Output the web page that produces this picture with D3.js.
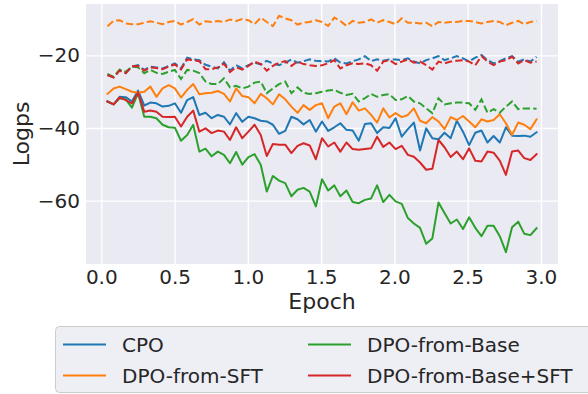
<!DOCTYPE html>
<html><head><meta charset="utf-8">
<script src="https://cdn.jsdelivr.net/npm/d3@7"></script>
<style>html,body{margin:0;padding:0;background:#fff;} svg{display:block;font-family:"DejaVu Sans",sans-serif;}</style>
</head><body><svg id="c" width="588" height="394"></svg>
<script>
const epochs = [0.042,0.084,0.125,0.167,0.209,0.251,0.293,0.335,0.376,0.418,0.460,0.502,0.544,0.586,0.627,0.669,0.711,0.753,0.795,0.837,0.878,0.920,0.962,1.004,1.046,1.088,1.129,1.171,1.213,1.255,1.297,1.339,1.380,1.422,1.464,1.506,1.548,1.590,1.631,1.673,1.715,1.757,1.799,1.841,1.882,1.924,1.966,2.008,2.050,2.092,2.133,2.175,2.217,2.259,2.301,2.342,2.384,2.426,2.468,2.510,2.552,2.594,2.635,2.677,2.719,2.761,2.803,2.845,2.886,2.928,2.970];

// solid lines
const cpo = [-32.7,-33.5,-31.4,-31.5,-32.7,-29.7,-33.8,-33.0,-33.2,-34.1,-33.9,-33.2,-35.8,-32.3,-31.5,-36.4,-35.8,-37.3,-36.4,-36.9,-39.0,-35.9,-38.3,
 -36.9,-37.3,-38.0,-38.2,-39.1,-41.6,-40.8,-36.9,-37.6,-39.0,-37.8,-41.0,-38.2,-40.8,-39.8,-38.7,-40.5,-40.7,-43.5,-38.9,-38.7,-41.4,
 -39.8,-40.0,
 -37.3,-42.4,-40.3,-38.5,-46.2,-40.1,-42.8,-43.1,-41.3,-42.8,-38.0,-41.0,-44.7,-41.3,-40.7,-44.0,-42.2,-44.0,-39.8,-42.1,-42.2,-42.1,-42.4,-41.2];
const dpoSft = [-30.6,-29.1,-28.6,-29.3,-30.0,-30.3,-30.0,-28.6,-31.4,-29.1,-28.2,-29.1,-31.6,-29.5,-27.9,-30.7,-30.4,-30.3,-29.8,-30.6,-32.7,-29.1,-31.2,
 -31.5,-33.2,-30.6,-31.8,-33.5,-30.7,-32.1,-34.1,-35.8,-33.7,-35.0,-33.7,-33.2,-37.3,-34.1,-33.2,-36.2,-32.9,-35.2,-34.6,-36.4,-38.5,
 -34.6,-37.1,
 -35.9,-37.0,-36.4,-34.6,-38.0,-38.7,-37.0,-38.2,-40.3,-37.0,-37.8,-36.7,-38.2,-39.8,-37.6,-38.2,-37.8,-36.2,-38.7,-41.9,-38.5,-39.1,-40.3,-37.6];
const dpoBase = [-32.7,-33.5,-31.8,-32.1,-34.4,-30.4,-36.9,-36.9,-37.3,-39.1,-39.8,-39.9,-43.5,-41.9,-39.1,-46.5,-45.7,-47.8,-46.5,-47.4,-49.7,-46.6,-50.1,
 -48.0,-47.2,-50.1,-57.5,-53.2,-54.5,-55.2,-58.8,-57.0,-56.5,-57.5,-61.6,-54.1,-57.2,-55.8,-58.8,-57.2,-60.4,-60.7,-59.8,-59.4,-55.8,-60.4,-58.4,-60.2,-60.9,
 -64.8,-66.3,-67.5,-71.9,-70.4,-60.5,-63.4,-66.3,-65.2,-67.8,-64.6,-67.5,-69.8,-66.9,-66.9,-69.8,-74.2,-67.3,-65.8,-69.1,-69.5,-67.6];
const dpoBaseSft = [-32.7,-33.5,-31.6,-32.3,-33.2,-30.3,-35.5,-35.2,-35.5,-36.9,-37.0,-36.9,-39.6,-36.9,-35.2,-41.0,-40.1,-41.4,-40.7,-41.0,-43.3,-39.8,-42.8,
 -41.0,-39.1,-41.9,-47.7,-44.4,-44.6,-44.6,-46.9,-44.9,-44.2,-44.8,-48.6,-42.8,-45.1,-44.0,-46.5,-44.0,-45.8,-46.0,-45.8,-45.6,-42.4,
 -45.2,-44.0,
 -45.8,-44.9,-47.4,-47.9,-49.5,-51.5,-51.2,-43.3,-45.3,-48.0,-46.5,-48.6,-45.6,-49.0,-49.2,-46.5,-46.8,-49.0,-52.9,-46.5,-46.2,-48.3,-48.8,-47.2];

// dashed lines
const cpoDashed = [-25.4,-26.0,-24.0,-24.8,-23.1,-22.7,-24.0,-23.1,-23.3,-23.6,-22.9,-22.2,-23.6,-20.6,-21.1,-21.3,-22.6,-23.1,-23.6,-21.9,-24.2,-22.7,
 -23.6,-22.7,-22.0,-22.5,-21.5,-22.2,-22.7,-22.0,-21.1,-22.0,-21.6,-21.1,-21.5,-21.6,-21.7,-20.8,-22.0,-22.2,-21.6,-21.1,-20.2,-21.6,-21.1,-21.5,-21.1,
 -21.1,-21.3,-20.8,-21.7,-22.2,-21.3,-20.8,-20.2,-21.3,-20.8,-20.2,-20.8,-21.7,-20.6,-19.9,-21.3,-22.2,-21.6,-20.8,-20.2,-21.7,-21.1,-21.7,-20.4];
const dpoSftDashed = [-11.95,-10.5,-10.3,-11.2,-11.4,-11.4,-11.0,-10.6,-11.0,-11.4,-10.8,-10.5,-11.5,-10.8,-10.0,-11.5,-10.6,-10.8,-10.5,-10.8,-10.1,-10.5,-10.0,
 -10.3,-11.4,-9.6,-10.8,-11.95,-9.1,-9.8,-10.3,-11.5,-11.0,-10.8,-10.3,-10.8,-11.9,-9.6,-10.5,-11.9,-10.5,-11.0,-10.8,-10.1,-11.0,
 -10.3,-10.8,-11.4,-9.8,-11.0,-11.0,-11.2,-11.0,-11.95,-10.8,-11.0,-10.8,-10.8,-10.5,-10.5,-10.8,-11.2,-10.8,-10.5,-10.8,-11.7,-11.0,-10.5,-11.4,-10.8,-10.5];
const dpoBaseDashed = [-25.1,-25.9,-23.9,-24.5,-23.1,-23.3,-24.9,-24.0,-24.8,-25.1,-24.5,-24.0,-26.5,-24.0,-24.2,-24.9,-27.2,-27.9,-27.9,-26.3,-28.8,-28.4,
 -29.1,-28.6,-27.5,-27.2,-30.4,-29.1,-27.9,-27.2,-30.4,-28.8,-30.3,-30.6,-30.4,-30.0,-29.7,-29.5,-30.3,-30.9,-30.6,-32.7,-31.8,-30.6,-31.4,-30.9,-30.7,
 -32.3,-32.1,-31.2,-32.7,-33.2,-34.6,-35.9,-31.8,-33.5,-33.2,-33.0,-33.0,-33.2,-35.0,-32.1,-35.8,-34.8,-35.8,-34.1,-32.7,-34.8,-34.6,-34.6,-34.7];
const dpoBaseSftDashed = [-25.4,-26.1,-24.2,-24.9,-23.0,-22.9,-24.2,-23.3,-23.5,-23.8,-23.1,-22.5,-23.9,-21.1,-21.3,-21.6,-23.8,-23.8,-23.3,-22.3,-24.6,-23.3,
 -23.9,-22.9,-21.7,-22.4,-24.2,-22.9,-22.0,-21.6,-22.9,-21.7,-22.4,-22.7,-22.9,-22.7,-22.2,-21.3,-23.6,-22.7,-22.2,-22.4,-22.2,-22.7,-24.2,-21.7,-21.3,
 -22.4,-21.7,-21.1,-22.0,-21.7,-22.7,-23.9,-21.7,-22.2,-21.7,-21.5,-21.3,-21.7,-22.7,-20.2,-21.7,-22.7,-21.7,-21.3,-20.4,-22.2,-21.3,-22.0,-21.7];

const labels = ["CPO","DPO-from-SFT","DPO-from-Base","DPO-from-Base+SFT"];
const colors = ["#1f77b4","#ff7f0e","#2ca02c","#d62728"];
const xTicks = [0,0.5,1.0,1.5,2.0,2.5,3.0];
const yTicks = [-60,-40,-20];

const series = [
  {values: cpo, dashed: cpoDashed, color: colors[0], label: labels[0]},
  {values: dpoSft, dashed: dpoSftDashed, color: colors[1], label: labels[1]},
  {values: dpoBase, dashed: dpoBaseDashed, color: colors[2], label: labels[2]},
  {values: dpoBaseSft, dashed: dpoBaseSftDashed, color: colors[3], label: labels[3]}
];

const svg = d3.select("#c");
const L=86, R=558, T=4, B=264;
const txt = "#262626";

const ex = d3.extent(epochs), xp = (ex[1]-ex[0])*0.05;
const all = series.flatMap(s => s.values.concat(s.dashed));
const ey = d3.extent(all), yp = (ey[1]-ey[0])*0.05;
const x = d3.scaleLinear().domain([ex[0]-xp, ex[1]+xp]).range([L,R]);
const y = d3.scaleLinear().domain([ey[0]-yp, ey[1]+yp]).range([B,T]);

svg.append("rect").attr("x",L).attr("y",T).attr("width",R-L).attr("height",B-T).attr("fill","#eaeaf2");

const xa = svg.append("g").attr("transform",`translate(0,${B})`)
  .call(d3.axisBottom(x).tickValues(xTicks).tickFormat(d3.format(".1f")).tickSize(-(B-T)).tickPadding(6));
const ya = svg.append("g").attr("transform",`translate(${L},0)`)
  .call(d3.axisLeft(y).tickValues(yTicks).tickFormat(d3.format("d")).tickSize(-(R-L)).tickPadding(6));
[xa,ya].forEach(a=>{
  a.select(".domain").remove();
  a.selectAll(".tick line").attr("stroke","#fff").attr("stroke-width",1.4);
  a.selectAll(".tick text").attr("fill",txt).style("font-size","20px").style("font-family","DejaVu Sans");
});

svg.append("clipPath").attr("id","pc").append("rect").attr("x",L).attr("y",T).attr("width",R-L).attr("height",B-T);
const plot = svg.append("g").attr("clip-path","url(#pc)");
const line = d3.line().x((d,i)=>x(epochs[i])).y(d=>y(d));
series.forEach(s=>{
  plot.append("path").datum(s.values).attr("d",line).attr("fill","none")
    .attr("stroke",s.color).attr("stroke-width",2).attr("stroke-linejoin","round").attr("stroke-linecap","square");
  plot.append("path").datum(s.dashed).attr("d",line).attr("fill","none")
    .attr("stroke",s.color).attr("stroke-width",2).attr("stroke-dasharray","7.4,3.2");
});

svg.append("text").attr("x",(L+R)/2).attr("y",309).attr("text-anchor","middle")
  .attr("fill",txt).style("font-size","22px").text("Epoch");
svg.append("text").attr("transform",`translate(29,${(T+B)/2}) rotate(-90)`).attr("text-anchor","middle")
  .attr("fill",txt).style("font-size","22px").text("Logps");

// legend
const lg = svg.append("g");
lg.append("rect").attr("x",55.5).attr("y",326.5).attr("width",540).attr("height",66).attr("rx",4)
  .attr("fill","#eaeaf2").attr("fill-opacity",0.8).attr("stroke","#cccccc").attr("stroke-width",1);
const colX = [63,308], rowY = [344.5,375.5];
series.forEach((s,i)=>{
  const cx = colX[Math.floor(i/2)], cy = rowY[i%2];
  lg.append("line").attr("x1",cx).attr("x2",cx+43).attr("y1",cy).attr("y2",cy)
    .attr("stroke",s.color).attr("stroke-width",2);
  lg.append("text").attr("x",cx+59).attr("y",cy+7.5).attr("fill",txt).style("font-size","20px").text(s.label);
});
</script></body></html>
